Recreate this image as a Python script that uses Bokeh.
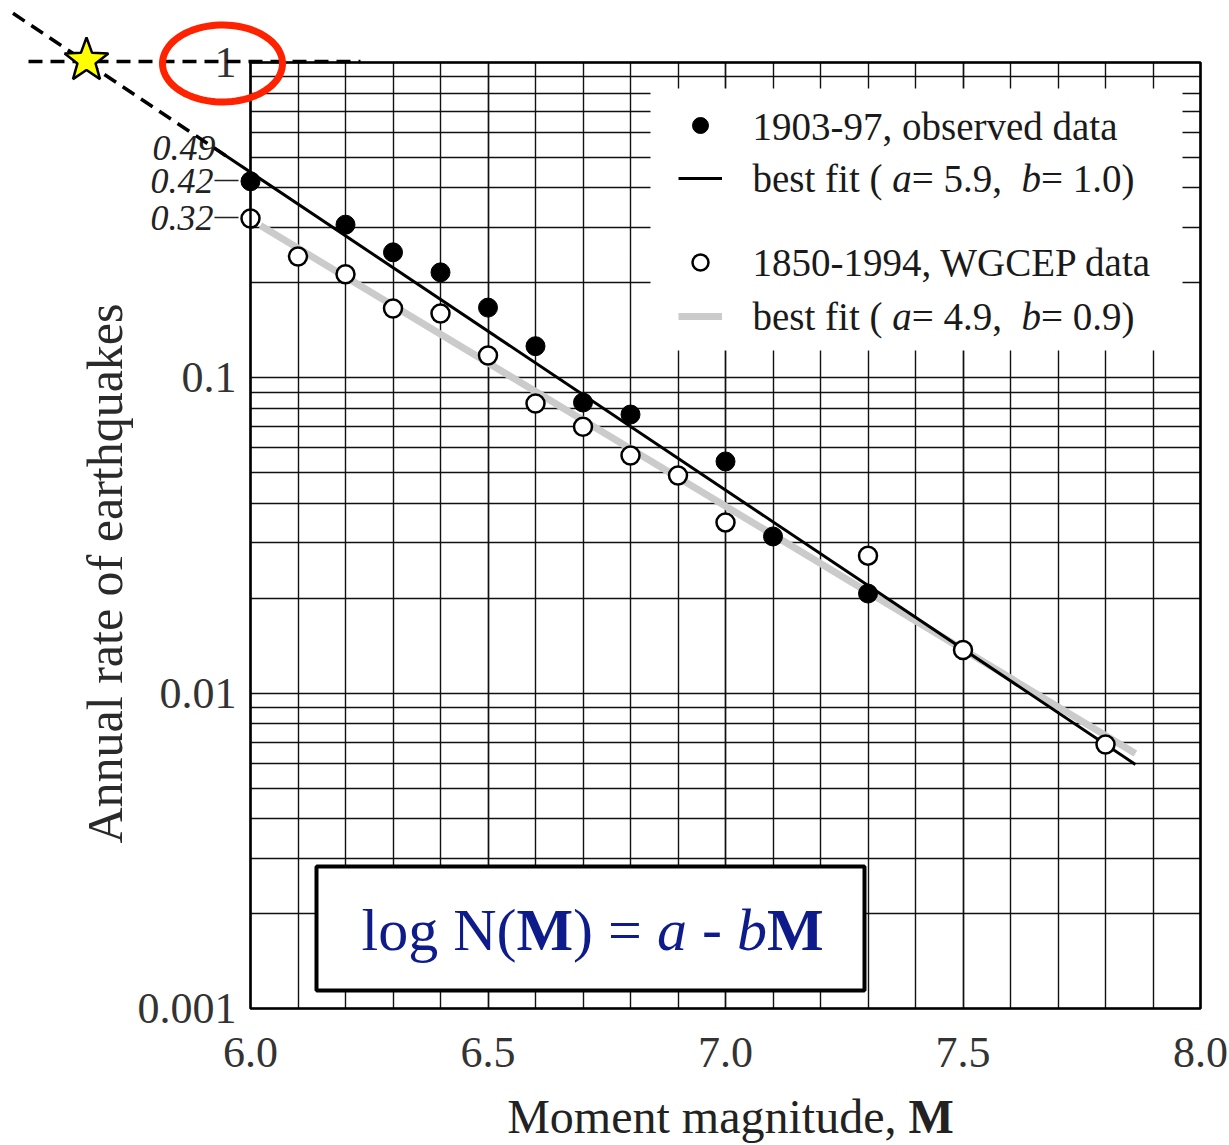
import numpy as np
from bokeh.plotting import figure
from bokeh.models import (Range1d, FixedTicker, SingleIntervalTicker, PrintfTickFormatter,
                          CustomJSTickFormatter, Label, Arrow, BoxAnnotation, PolyAnnotation,
                          Legend, LegendItem)
from bokeh.embed import file_html
from bokeh.resources import INLINE

# ---------------- data ----------------
mag_obs = [6.0, 6.2, 6.3, 6.4, 6.5, 6.6, 6.7, 6.8, 7.0, 7.1, 7.3]
rate_obs = [0.42, 0.306, 0.25, 0.216, 0.167, 0.126, 0.0835, 0.0765, 0.0543, 0.0314, 0.0207]

mag_wg = [6.0, 6.1, 6.2, 6.3, 6.4, 6.5, 6.6, 6.7, 6.8, 6.9, 7.0, 7.3, 7.5, 7.8]
rate_wg = [0.32, 0.2425, 0.213, 0.166, 0.16, 0.1177, 0.0829, 0.0700, 0.0567, 0.049,
           0.0348, 0.0273, 0.0137, 0.00687]

# drawn best-fit lines: log10 N = a - b M
fit_obs_a, fit_obs_b = 5.70, 1.008
fit_obs_range = [5.922, 7.863]
fit_obs_ext = [5.50, 5.96]          # dashed extrapolation up to N = 1
fit_wg_a, fit_wg_b = 4.956, 0.909
fit_wg_range = [6.021, 7.863]

x_bounds = (6.0, 8.0)
y_bounds = (0.001, 1.0)
x_ticks_interval = 0.5
y_major = [0.001, 0.01, 0.1, 1.0]
y_minor = [k * 10.0 ** e for e in (-3, -2, -1) for k in range(2, 10)]
side_labels = ["0.49", "0.42", "0.32"]

legend_texts_1 = [[("1903-97, observed data", "normal")],
                  [("best fit ( ", "normal"), ("a", "italic"), ("= 5.9,  ", "normal"),
                   ("b", "italic"), ("= 1.0)", "normal")]]
legend_texts_2 = [[("1850-1994, WGCEP data", "normal")],
                  [("best fit ( ", "normal"), ("a", "italic"), ("= 4.9,  ", "normal"),
                   ("b", "italic"), ("= 0.9)", "normal")]]
equation = [("log N(", "normal"), ("M", "bold"), (") = ", "normal"), ("a", "italic"),
            (" - ", "normal"), ("b", "italic"), ("M", "bold")]
x_title = [("Moment magnitude, ", "normal"), ("M", "bold")]
y_title = "Annual rate of earthquakes"

FONT = "Liberation Serif"

# ---------------- layout helpers ----------------
W, H = 1229, 1145
FX0, FX1, FY0, FY1 = 250.0, 1200.0, 62.0, 1008.0   # inner plot box in canvas pixels
SX = (FX1 - FX0) / (x_bounds[1] - x_bounds[0])      # px per magnitude unit
SY = (FY1 - FY0) / 3.0                               # px per decade


def px(X, Y):
    """canvas pixel -> data coordinates"""
    m = x_bounds[0] + (X - FX0) / SX
    v = 10 ** (-(Y - FY0) / SY)
    return m, v


REG = {' ': 250, '(': 333, ')': 333, ',': 250, '-': 333, '.': 250, '=': 564,
       'a': 444, 'b': 500, 'd': 500, 'e': 444, 'f': 333, 'g': 500, 'i': 278, 'l': 278,
       'o': 500, 's': 389, 't': 278, 'N': 722, 'M': 889, 'm': 778, 'n': 500, 'u': 500,
       'r': 333, 'v': 500, 'C': 667, 'E': 611, 'G': 722, 'P': 556, 'W': 944, 'h': 500}
for dgt in "0123456789":
    REG[dgt] = 500
ITA = dict(REG, a=500, b=500)
BLD = dict(REG, M=944)


def tw(txt, style):
    tab = {"normal": REG, "italic": ITA, "bold": BLD}[style]
    return sum(tab.get(c, 500) for c in txt) / 1000.0


# ---------------- figure: frame covers the whole canvas ----------------
x0, _ = px(0, 0)
x1, _ = px(W, 0)
_, ytop = px(0, 0)
_, ybot = px(0, H)
p = figure(x_range=Range1d(x0, x1), y_range=Range1d(ybot, ytop), y_axis_type="log",
           width=W, height=H, min_border=0, output_backend="svg",
           toolbar_location=None, background_fill_color="white", border_fill_color="white")
p.outline_line_color = None

p.xaxis.ticker = SingleIntervalTicker(interval=x_ticks_interval, num_minor_ticks=5)
p.xaxis.formatter = PrintfTickFormatter(format="%.1f")
p.xaxis.fixed_location = y_bounds[0]
p.xaxis.bounds = x_bounds
p.yaxis.ticker = FixedTicker(ticks=y_major, minor_ticks=y_minor)
p.yaxis.formatter = CustomJSTickFormatter(code="return String(tick)")
p.yaxis.fixed_location = x_bounds[0]
p.yaxis.bounds = y_bounds
for ax in (p.xaxis, p.yaxis):
    ax.axis_line_color = None
    ax.major_tick_line_color = None
    ax.minor_tick_line_color = None
    ax.major_tick_out = 0
    ax.minor_tick_out = 0
    ax.major_label_text_font = FONT
    ax.major_label_text_font_size = "44px"
    ax.major_label_text_color = "#333333"
p.xaxis.major_label_standoff = 29
p.yaxis.major_label_standoff = 14

p.xgrid.bounds = x_bounds
p.xgrid.cross_bounds = y_bounds
p.ygrid.bounds = y_bounds
p.ygrid.cross_bounds = x_bounds
for g in (p.xgrid, p.ygrid):
    g.grid_line_color = "#111111"
    g.grid_line_width = 1.4
    g.grid_line_alpha = 1.0
    g.minor_grid_line_color = "#111111"
    g.minor_grid_line_width = 1.4
    g.minor_grid_line_alpha = 1.0

# inner plot box outline
p.add_layout(BoxAnnotation(left=x_bounds[0], right=x_bounds[1], bottom=y_bounds[0],
                           top=y_bounds[1], fill_alpha=0.0, line_color="black",
                           line_alpha=1.0, line_width=2.5))

# ---------------- data marks ----------------
mo = np.array(fit_obs_range)
mw = np.array(fit_wg_range)
r_fit_wg = p.line(mw, 10 ** (fit_wg_a - fit_wg_b * mw), line_color="#cbcbcb", line_width=7)
r_fit_obs = p.line(mo, 10 ** (fit_obs_a - fit_obs_b * mo), line_color="black", line_width=3)
r_wg = p.scatter(mag_wg, rate_wg, size=18, fill_color="white", line_color="black",
                 line_width=2.5)
r_obs = p.scatter(mag_obs, rate_obs, size=19, fill_color="black", line_color="black")

# ---------------- legend ----------------
lx0, ly0 = px(650, 350)
lx1, ly1 = px(1182, 88)
p.add_layout(BoxAnnotation(left=lx0, right=lx1, bottom=ly0, top=ly1, fill_color="white",
                           fill_alpha=1.0, line_color=None))

leg1 = Legend(items=[LegendItem(label=" ", renderers=[r_obs]),
                     LegendItem(label=" ", renderers=[r_fit_obs])],
              location=(678, H - 198), spacing=13)
leg2 = Legend(items=[LegendItem(label=" ", renderers=[r_wg]),
                     LegendItem(label=" ", renderers=[r_fit_wg])],
              location=(678, H - 336), spacing=14)
for lg in (leg1, leg2):
    lg.padding = 0
    lg.margin = 0
    lg.glyph_width = 44
    lg.glyph_height = 40
    lg.label_height = 40
    lg.label_text_font_size = "10px"
    lg.background_fill_alpha = 0
    lg.border_line_color = None
    p.add_layout(lg)


def rich(tokens, X0, Y, size, color):
    x = X0
    for txt, style in tokens:
        stripped = txt.strip()
        if stripped:
            lead = tw(txt[:len(txt) - len(txt.lstrip())], style) * size
            m, v = px(x + lead, Y)
            p.add_layout(Label(x=m, y=v, text=stripped, text_font=FONT,
                               text_font_size=f"{size}px", text_font_style=style,
                               text_color=color, text_align="left",
                               text_baseline="middle"))
        x += tw(txt, style) * size


for toks, yy in zip(legend_texts_1 + legend_texts_2, [126, 178, 262, 316]):
    rich(toks, 752, yy, 39, "#1a1a1a")

# ---------------- equation box ----------------
ex0, ey0 = px(316, 990)
ex1, ey1 = px(864, 866)
p.add_layout(BoxAnnotation(left=ex0, right=ex1, bottom=ey0, top=ey1, fill_color="white",
                           fill_alpha=1.0, line_color="black", line_alpha=1.0, line_width=4))
eq_w = sum(tw(t, s) for t, s in equation) * 60
rich(equation, 592 - eq_w / 2, 929, 60, "#0d1c8a")

# ---------------- axis titles ----------------
xt_w = sum(tw(t, s) for t, s in x_title) * 48
rich(x_title, 730 - xt_w / 2, 1116, 48, "#222222")
ym, yv = px(104, 573)
p.add_layout(Label(x=ym, y=yv, text=y_title, text_font=FONT,
                   text_font_size="50px", text_color="#2a2a2a", angle=np.pi / 2,
                   text_align="center", text_baseline="middle"))

# ---------------- side labels 0.49 / 0.42 / 0.32 ----------------
for txt, (X, Y) in zip(side_labels, [(215, 147), (213, 180), (213, 217)]):
    m, v = px(X, Y)
    p.add_layout(Label(x=m, y=v, text=txt, text_font=FONT, text_font_size="36px",
                       text_font_style="italic", text_color="#222222",
                       text_align="right", text_baseline="middle"))
for Y in (180, 217):
    a0 = px(214, Y)
    a1 = px(238, Y)
    p.add_layout(Arrow(end=None, x_start=a0[0], y_start=a0[1], x_end=a1[0], y_end=a1[1],
                       line_color="#222222", line_width=1.5))

# ---------------- dashed extrapolation, star and ring ----------------
me = np.array(fit_obs_ext)
p.add_layout(Arrow(end=None, x_start=me[0], y_start=10 ** (fit_obs_a - fit_obs_b * me[0]),
                   x_end=me[1], y_end=10 ** (fit_obs_a - fit_obs_b * me[1]),
                   line_color="black", line_width=3.5, line_dash="14 8"))
h0 = px(28, 61)
h1 = px(360, 61)
p.add_layout(Arrow(end=None, x_start=h0[0], y_start=h0[1], x_end=h1[0], y_end=h1[1],
                   line_color="black", line_width=3.5, line_dash="14 8"))

sx, sy = [], []
for k in range(10):
    ang = np.pi / 2 + k * np.pi / 5
    rad = 23 if k % 2 == 0 else 9.5
    m, v = px(86 + rad * np.cos(ang), 60 - rad * np.sin(ang))
    sx.append(m)
    sy.append(v)
p.add_layout(PolyAnnotation(xs=sx, ys=sy, fill_color="#ffff00", fill_alpha=1.0,
                            line_color="black", line_alpha=1.0, line_width=2.5))

ex, ey = [], []
for t in np.linspace(0, 2 * np.pi, 90):
    m, v = px(222 + 60 * np.cos(t), 63 + 38.5 * np.sin(t))
    ex.append(m)
    ey.append(v)
p.add_layout(PolyAnnotation(xs=ex, ys=ey, fill_alpha=0.0, line_color="#ff2200",
                            line_alpha=1.0, line_width=7))

open("out.html", "w").write(file_html(p, INLINE))
